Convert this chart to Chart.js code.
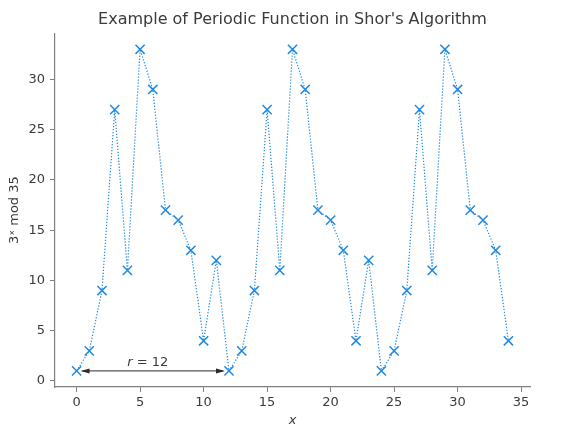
<!DOCTYPE html>
<html>
<head>
<meta charset="utf-8">
<script src="https://cdn.jsdelivr.net/npm/chart.js@4.4.1/dist/chart.umd.min.js"></script>
<style>
  html, body { margin: 0; padding: 0; background: #fff; }
  #wrap { width: 569px; height: 437px; }
</style>
</head>
<body>
<div id="wrap"><canvas id="shorChart"></canvas></div>
<script>
// valores: 3^x mod 35 para x = 0..34
const xValues = [0, 1, 2, 3, 4, 5, 6, 7, 8, 9, 10, 11, 12, 13, 14, 15, 16, 17, 18, 19, 20, 21, 22, 23, 24, 25, 26, 27, 28, 29, 30, 31, 32, 33, 34];
const yValues = [1, 3, 9, 27, 11, 33, 29, 17, 16, 13, 4, 12, 1, 3, 9, 27, 11, 33, 29, 17, 16, 13, 4, 12, 1, 3, 9, 27, 11, 33, 29, 17, 16, 13, 4];
const xTicks = [0, 5, 10, 15, 20, 25, 30, 35];
const yTicks = [0, 5, 10, 15, 20, 25, 30];
const periodStart = 0;
const periodEnd = 12;
const periodY = 1;
const periodLabel = 'r = 12';

const blue = '#1f8ae0';
const axisGray = '#808080';
const textGray = '#3a3a3a';
const fontFamily = '"DejaVu Sans", sans-serif';

// flecha doble con la etiqueta del periodo
const periodArrow = {
    id: 'periodArrow',
    afterDatasetsDraw(chart) {
        const { ctx, scales } = chart;
        const y = scales.y.getPixelForValue(periodY);
        const x1 = scales.x.getPixelForValue(periodStart) + 4;
        const x2 = scales.x.getPixelForValue(periodEnd) - 4;
        ctx.save();
        ctx.strokeStyle = '#2b2b2b';
        ctx.fillStyle = '#2b2b2b';
        ctx.lineWidth = 1;
        ctx.beginPath();
        ctx.moveTo(x1 + 2, y);
        ctx.lineTo(x2 - 2, y);
        ctx.stroke();
        // puntas
        [[x1, 1], [x2, -1]].forEach(([x, dir]) => {
            ctx.beginPath();
            ctx.moveTo(x, y);
            ctx.lineTo(x + dir * 9, y - 2.5);
            ctx.lineTo(x + dir * 9, y + 2.5);
            ctx.closePath();
            ctx.fill();
        });
        // texto "r = 12" con r en cursiva
        const cx = scales.x.getPixelForValue(5.6);
        const by = scales.y.getPixelForValue(1.45);
        ctx.textBaseline = 'alphabetic';
        ctx.fillStyle = textGray;
        ctx.font = 'italic 13px ' + fontFamily;
        const rW = ctx.measureText('r').width;
        ctx.font = '13px ' + fontFamily;
        const rest = periodLabel.slice(1);
        const restW = ctx.measureText(rest).width;
        const startX = cx - (rW + restW) / 2;
        ctx.font = 'italic 13px ' + fontFamily;
        ctx.textAlign = 'left';
        ctx.fillText('r', startX, by);
        ctx.font = '13px ' + fontFamily;
        ctx.fillText(rest, startX + rW, by);
        ctx.restore();
    }
};

const points = xValues.map((x, i) => ({ x: x, y: yValues[i] }));

new Chart(document.getElementById('shorChart'), {
    type: 'line',
    data: {
        datasets: [{
            data: points,
            borderColor: blue,
            borderWidth: 1.2,
            borderDash: [1.3, 1.7],
            pointStyle: 'crossRot',
            pointRadius: 6.5,
            pointBorderWidth: 1.5,
            pointBorderColor: blue,
            pointBackgroundColor: blue,
            tension: 0,
            clip: false
        }]
    },
    options: {
        responsive: true,
        maintainAspectRatio: false,
        animation: false,
        devicePixelRatio: 1,
        layout: { padding: { top: 0, right: 39, bottom: 0, left: 0 } },
        plugins: {
            legend: { display: false },
            tooltip: { enabled: false },
            title: {
                display: true,
                fullSize: false,
                text: "Example of Periodic Function in Shor's Algorithm",
                color: textGray,
                font: { family: fontFamily, size: 16, weight: 'normal' },
                padding: { top: 10, bottom: 4 }
            }
        },
        scales: {
            x: {
                type: 'linear',
                min: -1.7,
                max: 35.7,
                afterBuildTicks: (scale) => { scale.ticks = xTicks.map(v => ({ value: v })); },
                afterFit: (scale) => { scale.height = 50; },
                grid: { drawOnChartArea: false, drawTicks: true, tickLength: 5, color: axisGray },
                border: { color: axisGray, width: 1.2 },
                ticks: { color: textGray, font: { family: fontFamily, size: 13 }, padding: 3, maxRotation: 0 },
                title: {
                    display: true,
                    text: 'x',
                    color: textGray,
                    font: { family: fontFamily, size: 13, style: 'italic' },
                    padding: { top: 0, bottom: 9 }
                }
            },
            y: {
                type: 'linear',
                min: -0.6,
                max: 34.6,
                afterBuildTicks: (scale) => { scale.ticks = yTicks.map(v => ({ value: v })); },
                afterFit: (scale) => { scale.width = 55; },
                grid: { drawOnChartArea: false, drawTicks: true, tickLength: 5, color: axisGray },
                border: { color: axisGray, width: 1.2 },
                ticks: { color: textGray, font: { family: fontFamily, size: 13 }, padding: 5 },
                title: {
                    display: true,
                    text: '3ˣ mod 35',
                    color: textGray,
                    font: { family: fontFamily, size: 13 },
                    padding: { top: 7, bottom: 0 }
                }
            }
        }
    },
    plugins: [periodArrow]
});
</script>
</body>
</html>
